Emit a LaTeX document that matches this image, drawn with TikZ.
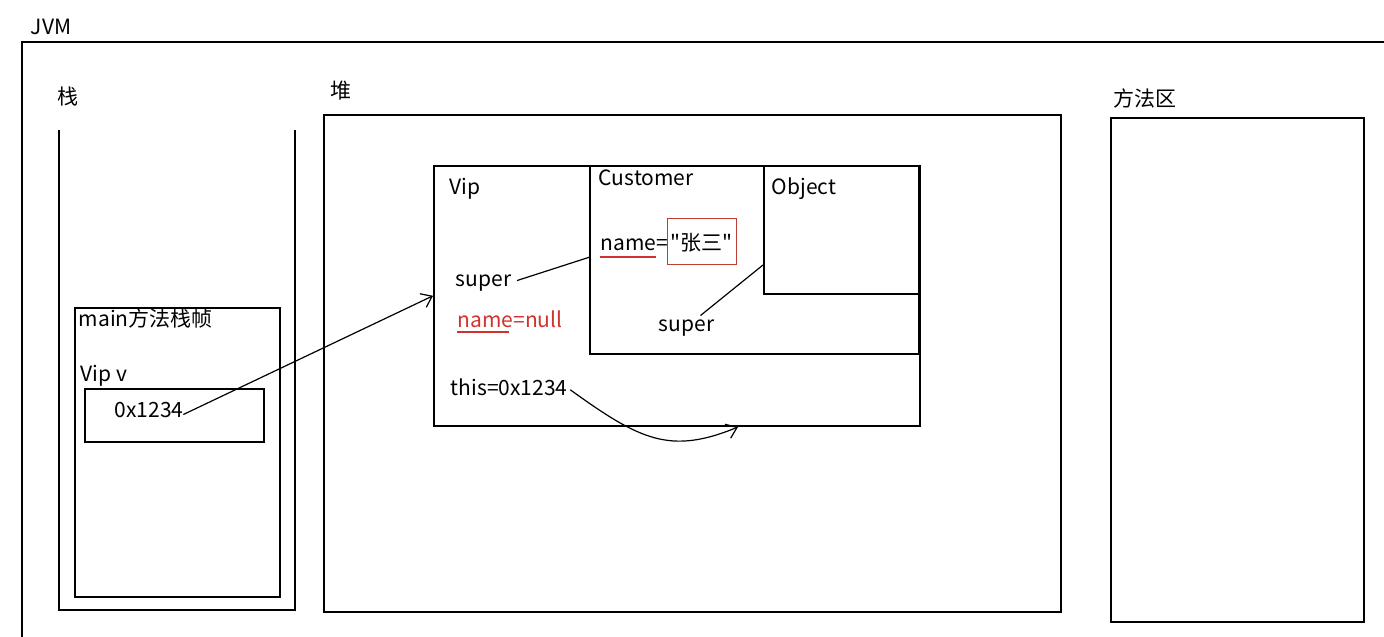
\documentclass[tikz,border=0pt]{standalone}
\usepackage{fontspec}
\setmainfont{Noto Sans CJK SC}
\newfontfamily\qfont{Noto Sans CJK SC}
\usetikzlibrary{arrows.meta}
\definecolor{myred}{RGB}{210,50,45}
\definecolor{boxred}{RGB}{190,60,50}
\begin{document}
\begin{tikzpicture}[x=1pt,y=-1pt,
  line width=1.6pt,
  txt/.style={anchor=base west,inner sep=0pt,font=\fontsize{21}{24}\selectfont},
  redtxt/.style={txt,text=myred},
  uline/.style={draw=myred,line width=1.4pt},
  box/.style={draw,rectangle,inner sep=0pt,anchor=north west},
  conn/.style={line width=1.2pt},
  arr/.style={conn,-{Straight Barb[length=10pt,width=15pt,line width=1.2pt]}}]
\useasboundingbox (0,0) rectangle (1384,637);
% JVM outer frame
\node[txt] (jvm) at (30,34) {JVM};
\draw (22,637) -- (22,42) -- (1384,42);
% stack
\node[txt] (zhan) at (57,104) {栈};
\draw (59,130) -- (59,610) -- (295,610) -- (295,130);
\node[box,minimum width=205pt,minimum height=289pt] (frame) at (74,307) {};
\node[txt] (mainlbl) at (78,326) {main方法栈帧};
\node[txt] (vipv) at (80,381) {Vip v};
\node[box,minimum width=179pt,minimum height=53pt] (ref) at (84,388) {};
\node[txt] (addr) at (114,417) {0x1234};
% heap
\node[txt] (dui) at (330,98) {堆};
\node[box,minimum width=737pt,minimum height=497pt] (heap) at (323,114) {};
\node[box,minimum width=486pt,minimum height=260pt] (vip) at (433,165) {};
\node[box,minimum width=329pt,minimum height=188pt] (cust) at (589,165) {};
\node[box,minimum width=155pt,minimum height=128pt] (obj) at (763,165) {};
\node[txt] (viplbl) at (449,194) {Vip};
\node[txt] (custlbl) at (598,185) {Customer};
\node[txt] (objlbl) at (771,194) {Object};
\node[txt] (cname) at (600,250) {name=};
\draw[uline] (600,257) -- (656,257);
\node[box,draw=boxred,line width=1.2pt,minimum width=69pt,minimum height=46pt] (zs) at (667,218) {};
\node[txt,font=\fontsize{21}{24}\qfont] (zsl) at (670,250) {"张三"};
\node[txt] (super1) at (455,286) {super};
\node[redtxt] (vname) at (457,327) {name=null};
\draw[uline] (457,332) -- (509,332);
\node[txt] (super2) at (658,331) {super};
\node[txt] (this) at (450,395) {this=0x1234};
% method area
\node[txt] (ff) at (1113,106) {方法区};
\node[box,minimum width=253pt,minimum height=504pt] (method) at (1110,117) {};
% connectors
\coordinate (c1) at (590,257);
\coordinate (c2) at (763,265);
\coordinate (c3) at (738,427);
\draw[conn] ([xshift=5pt,yshift=2pt]super1.east) -- (c1);
\draw[conn] ([xshift=14pt,yshift=3pt]super2.north) -- (c2);
\draw[arr] ([xshift=-1pt,yshift=-5pt]addr.east) -- (vip.west);
\draw[arr] ([xshift=2pt,yshift=-3pt]this.east) .. controls (640,440) and (670,455) .. (c3);
\end{tikzpicture}
\end{document}
